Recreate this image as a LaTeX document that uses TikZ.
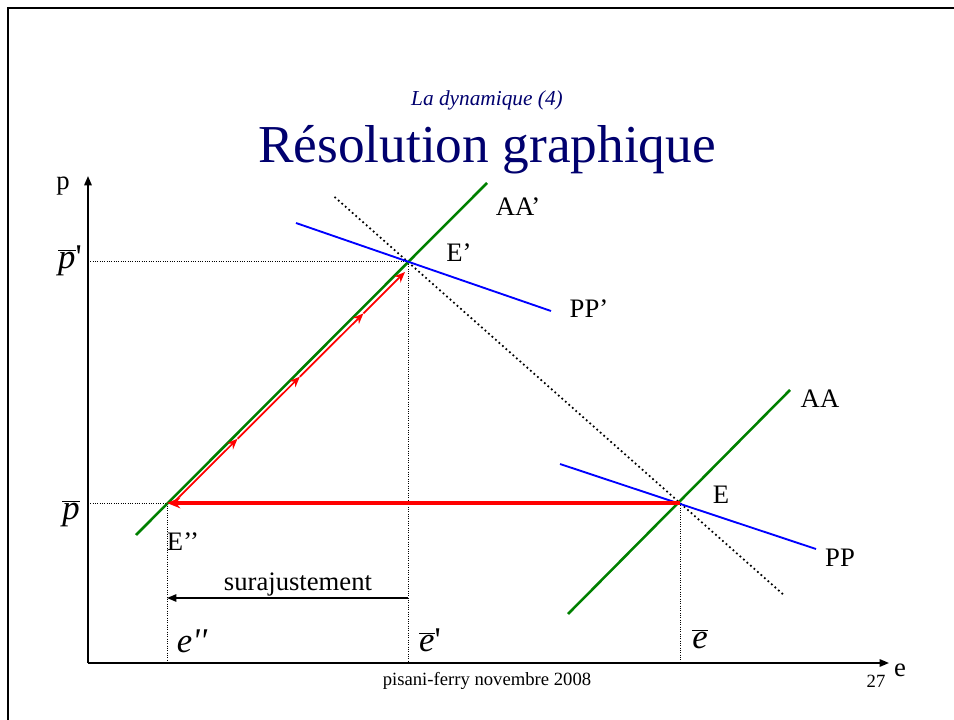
\documentclass[tikz,border=0pt]{standalone}
\usepackage{fontspec}
\setmainfont{Liberation Serif}
\usetikzlibrary{arrows.meta,calc,positioning}
\definecolor{slidenavy}{RGB}{0,0,110}
\definecolor{curvegreen}{RGB}{0,128,0}
\definecolor{curveblue}{RGB}{0,0,255}
\definecolor{pathred}{RGB}{255,0,0}

\begin{document}
\begin{tikzpicture}[
        x=0.75pt,
        y=-0.75pt,
        axis/.style={line width=1.3pt, -{Triangle[length=7pt,width=5.5pt]}},
        guide/.style={line width=0.75pt, dash pattern=on 0.75pt off 1pt},
        diag/.style={line width=1.3pt, dash pattern=on 1.3pt off 2.2pt},
        aacurve/.style={draw=curvegreen, line width=1.9pt},
        ppcurve/.style={draw=curveblue, line width=1.4pt},
        jump/.style={draw=pathred, line width=2.6pt, -{Stealth[length=10pt,width=8pt]}},
        dynstep/.style={draw=pathred, line width=1.3pt, -{Stealth[length=8pt,width=6.5pt]}},
        lbl/.style={font=\fontsize{20}{24}\selectfont, inner sep=0pt},
        mlbl/.style={font=\fontsize{26}{30}\selectfont, inner sep=0pt},
        small/.style={font=\fontsize{14}{16}\selectfont, inner sep=0pt},
    ]
        \useasboundingbox (0,0) rectangle (954,720);
        \draw[line width=1.6pt] (8,720) -- (8,8) -- (954,8);

        \node[text=slidenavy, font=\fontsize{16}{19}\selectfont\itshape] (sub) at (487,100) {La dynamique (4)};
        \node[text=slidenavy, font=\fontsize{40}{46}\selectfont, anchor=base] (title) at (487,163) {Résolution graphique};

        \coordinate (O) at (88,663);
        \coordinate (ytip) at (88,176);
        \coordinate (xtip) at (889,663);
        \draw[axis] (O) -- (ytip);
        \draw[axis] (O) -- (xtip);
        \node[lbl] (plab) at (63,186) {p};
        \node[lbl] (elab) at (900,670) {e};

        \coordinate (E) at (680,503);
        \coordinate (Ep) at (408,262);
        \coordinate (Epp) at (167,503);

        \draw[guide] (O |- Ep) -- (Ep) -- (Ep |- O);
        \draw[guide] (O |- Epp) -- (Epp) -- (Epp |- O);
        \draw[guide] (E) -- (E |- O);

        \draw[diag] ($(Ep)!-0.27!(E)$) -- ($(E)!-0.38!(Ep)$);
        \draw[aacurve] ($(Ep)+(-272,273)$) -- ($(Ep)+(79,-79)$);
        \draw[aacurve] ($(E)+(-112,111)$) -- ($(E)+(110,-113)$);
        \draw[ppcurve] ($(Ep)+(-112,-39)$) -- ($(Ep)+(143,49)$);
        \draw[ppcurve] ($(E)+(-120,-39)$) -- ($(E)+(136,46)$);

        \draw[jump] (E) -- (Epp);
        \coordinate (d0) at ($(Epp)+(7,-1)$);
        \coordinate (d1) at ($(Ep)+(-3,10)$);
        \foreach \a/\b in {0/0.275, 0.275/0.545, 0.545/0.82, 0.82/1}
            \draw[dynstep] ($(d0)!\a!(d1)$) -- ($(d0)!\b!(d1)$);

        \coordinate (s0) at (Ep |- 0,598);
        \coordinate (s1) at (Epp |- 0,598);
        \draw[line width=1.2pt, -{Triangle[length=7pt,width=5.5pt]}] (s0) -- (s1);
        \node[lbl, anchor=base] (surlab) at (298,590) {surajustement};

        \node[lbl] (aaplab) at (518,207) {AA’};
        \node[lbl] (eplab) at (459,253) {E’};
        \node[lbl] (pplab) at (589,309) {PP’};
        \node[lbl] (aalab) at (820,399) {AA};
        \node[lbl] (elab2) at (721,495) {E};
        \node[lbl] (pplab2) at (840,558) {PP};
        \node[lbl] (epplab) at (183,542) {E’’};

        \node[mlbl] (pbarp) at (70,261) {$\overline{\mbox{\itshape p}}$\textquotesingle};
        \node[mlbl] (pbar) at (71,514) {$\overline{\mbox{\itshape p}}$};
        \node[mlbl] (epp) at (192,641) {\itshape e\textquotesingle\textquotesingle};
        \node[mlbl] (ebarp) at (430,640) {$\overline{\mbox{\itshape e}}$\textquotesingle};
        \node[mlbl] (ebar) at (700,639) {$\overline{\mbox{\itshape e}}$};

        \node[small] (foot) at (487,681) {pisani-ferry novembre 2008};
        \node[small] (pagenum) at (876,681) {27};
    \end{tikzpicture}
\end{document}
